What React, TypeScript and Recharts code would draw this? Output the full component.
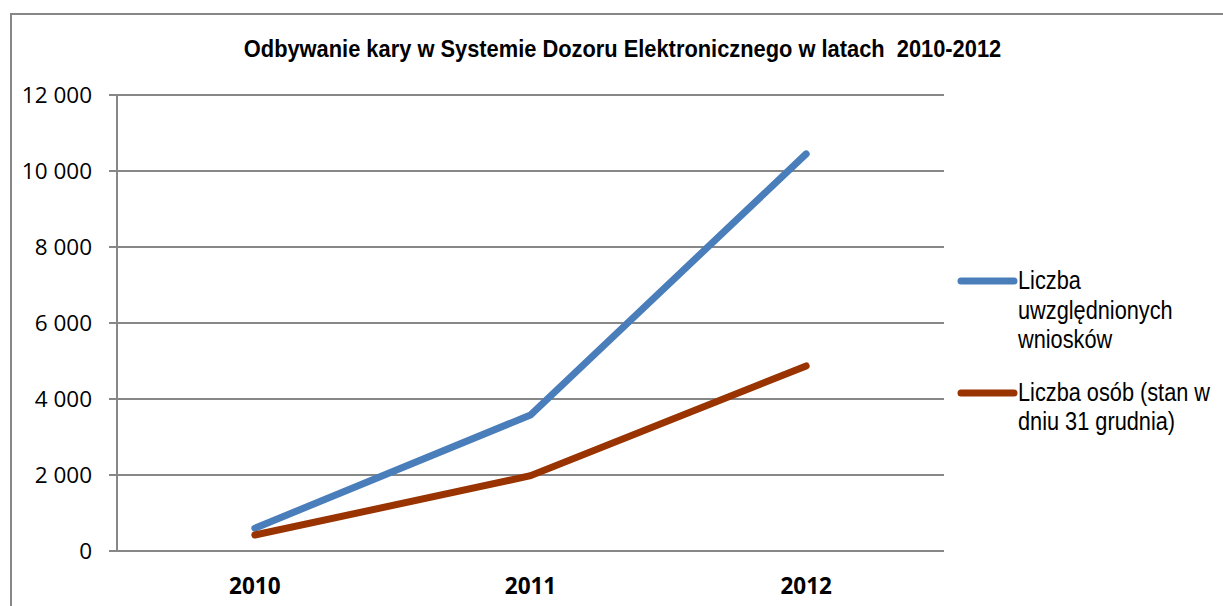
import * as React from "react";
import { LineChart, Line, XAxis, YAxis, CartesianGrid, Legend } from "recharts";

// Values.
const years = ["2010", "2011", "2012"];
const wnioski = [600, 3580, 10450];
const osoby = [420, 1980, 4870];
const yTicks = [0, 2000, 4000, 6000, 8000, 10000, 12000];
const seriesNames = [
  "Liczba uwzględnionych wniosków",
  "Liczba osób (stan w dniu 31 grudnia)",
];
const title = "Odbywanie kary w Systemie Dozoru Elektronicznego w latach  2010-2012";

const BLUE = "#4a7ebb";
const RED = "#993300";
const GRAY = "#878787";
// no narrow face installed, so squeeze Liberation Sans horizontally instead
const SANS = "'Liberation Sans', Arial, sans-serif";
const LEGEND_X = 0.82;
const TITLE_X = 0.91;

// each year sits in the middle of its slot, slot edges carry the tick marks
const data = years.map((year, i) => ({
  pos: i + 0.5,
  year,
  wnioski: wnioski[i],
  osoby: osoby[i],
}));
const slotEdges = years.map((_, i) => i).concat(years.length);

const fmt = (v: number) => String(v).replace(/\B(?=(\d{3})+(?!\d))/g, " ");

function ChartLegend({ payload }: { payload?: any[] }) {
  if (!payload) return null;
  const items = [...payload].sort(
    (a, b) => seriesNames.indexOf(a.value) - seriesNames.indexOf(b.value)
  );
  return (
    <div style={{ fontFamily: SANS, fontSize: 26.5, lineHeight: "29.5px", color: "#000" }}>
      {items.map((item, i) => (
        <div key={i} style={{ display: "flex", alignItems: "flex-start", marginBottom: 23 }}>
          <svg width={65} height={29.5} style={{ flexShrink: 0 }}>
            <line x1={8} x2={61} y1={15} y2={15} stroke={item.color} strokeWidth={7} strokeLinecap="round" />
          </svg>
          <div style={{ width: 252, flexShrink: 0, transform: `scaleX(${LEGEND_X})`, transformOrigin: "left top" }}>
            {item.value}
          </div>
        </div>
      ))}
    </div>
  );
}

export default function App() {
  return (
    <div style={{ position: "absolute", left: 0, top: 0, width: 1223, height: 606, overflow: "hidden", background: "#fff" }}>
      <div
        style={{
          position: "absolute",
          left: 10,
          top: 13,
          width: 1300,
          height: 700,
          border: `2px solid ${GRAY}`,
          boxSizing: "border-box",
        }}
      />
      <div
        style={{
          position: "absolute",
          left: 0,
          top: 37,
          width: 1245,
          textAlign: "center",
          whiteSpace: "pre",
          fontFamily: SANS,
          fontWeight: "bold",
          fontSize: 24,
          lineHeight: "24px",
          color: "#000",
          transform: `scaleX(${TITLE_X})`,
          transformOrigin: "622.5px 0",
        }}
      >
        {title}
      </div>
      <div style={{ position: "absolute", left: 0, top: 0 }}>
        <LineChart
          width={1223}
          height={606}
          data={data}
          margin={{ top: 95, right: 279, bottom: 10, left: 10 }}
        >
          <CartesianGrid vertical={false} stroke={GRAY} strokeWidth={2} />
          <XAxis
            xAxisId="edges"
            type="number"
            dataKey="pos"
            domain={[0, years.length]}
            ticks={slotEdges}
            tick={false}
            tickSize={9}
            height={10}
            axisLine={{ stroke: GRAY, strokeWidth: 2 }}
            tickLine={{ stroke: GRAY, strokeWidth: 2 }}
          />
          <XAxis
            xAxisId="labels"
            type="number"
            dataKey="pos"
            domain={[0, years.length]}
            ticks={data.map((d) => d.pos)}
            tickFormatter={(v) => years[Math.floor(v)]}
            tickSize={0}
            tickMargin={17}
            height={35}
            axisLine={false}
            tickLine={false}
            tick={{ fill: "#000", fontSize: 22.5, fontWeight: "bold", fontFamily: "'Open Sans', sans-serif" }}
          />
          <YAxis
            domain={[0, 12000]}
            ticks={yTicks}
            width={107}
            tickSize={8}
            tickMargin={17}
            tickFormatter={fmt}
            axisLine={{ stroke: GRAY, strokeWidth: 2 }}
            tickLine={{ stroke: GRAY, strokeWidth: 2 }}
            tick={{ fill: "#000", fontSize: 22.5, fontFamily: "'Open Sans', sans-serif" }}
          />
          <Legend
            layout="horizontal"
            align="center"
            verticalAlign="middle"
            content={<ChartLegend />}
            wrapperStyle={{ left: 953, top: 266, width: 330 }}
          />
          <Line
            xAxisId="edges"
            dataKey="wnioski"
            name={seriesNames[0]}
            stroke={BLUE}
            strokeWidth={7}
            strokeLinecap="round"
            dot={false}
            activeDot={false}
            isAnimationActive={false}
          />
          <Line
            xAxisId="edges"
            dataKey="osoby"
            name={seriesNames[1]}
            stroke={RED}
            strokeWidth={7}
            strokeLinecap="round"
            dot={false}
            activeDot={false}
            isAnimationActive={false}
          />
        </LineChart>
      </div>
    </div>
  );
}
